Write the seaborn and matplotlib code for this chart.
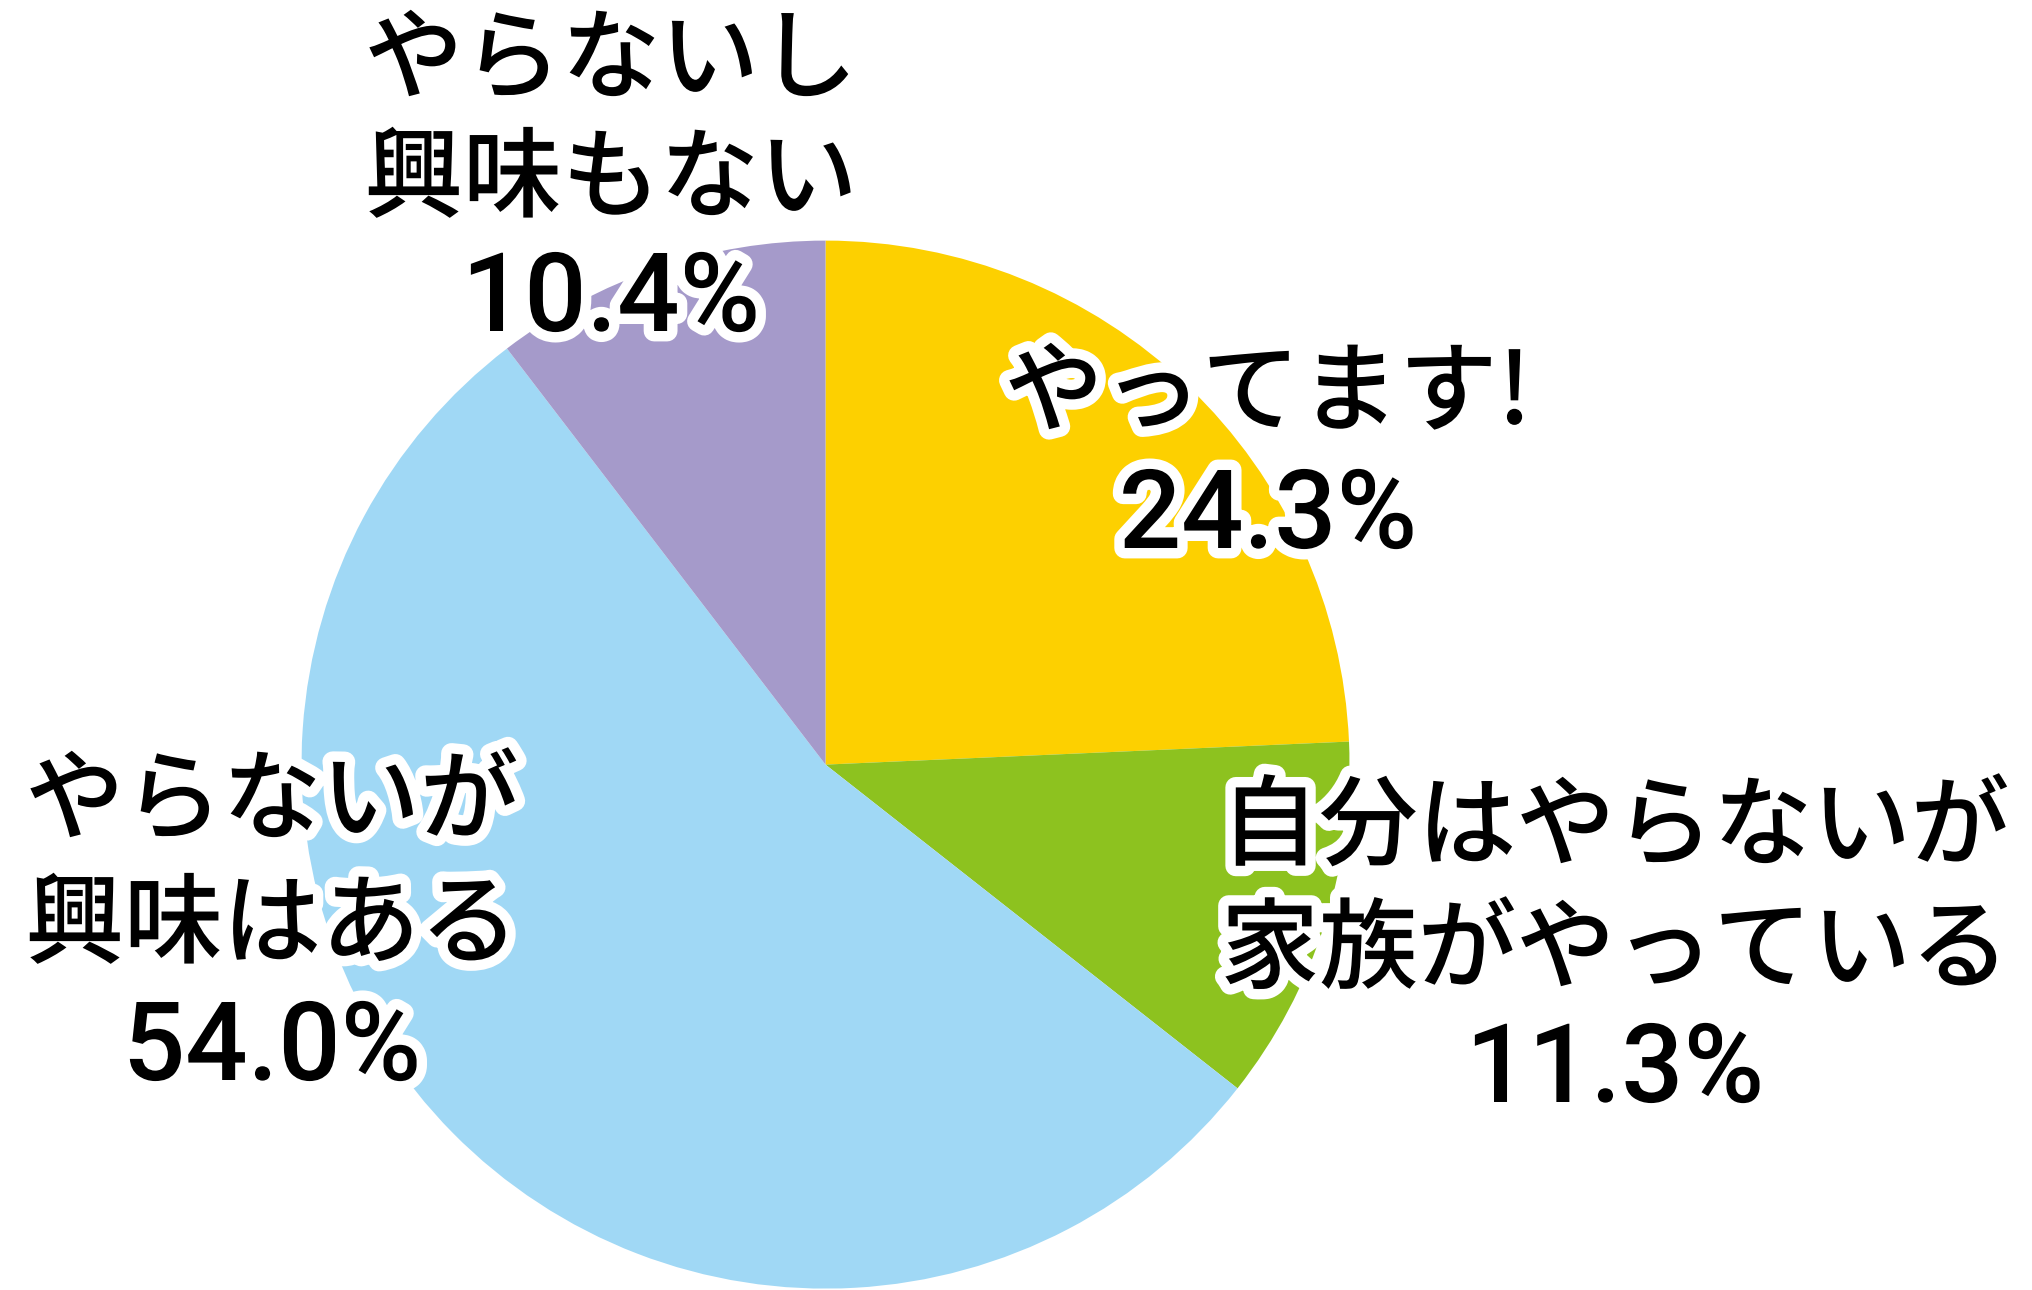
import matplotlib
matplotlib.use("Agg")
import matplotlib.pyplot as plt
import matplotlib.patheffects as pe
import seaborn as sns

# ---- data ----
categories = ["やってます!", "自分はやらないが\n家族がやっている", "やらないが\n興味はある", "やらないし\n興味もない"]
values = [24.3, 11.3, 54.0, 10.4]
pct_labels = ["24.3%", "11.3%", "54.0%", "10.4%"]
colors = ["#FDD000", "#8DC21F", "#A0D8F5", "#A59ACA"]

sns.set_theme(style="white")
plt.rcParams["font.family"] = ["Noto Sans CJK JP", "DejaVu Sans"]

W, H = 2032, 1290
fig = plt.figure(figsize=(W / 100, H / 100), dpi=100)
ax = fig.add_axes([0, 0, 1, 1])

cx, cy, r = 825.5, H - 764.6, 524
ax.pie(values, colors=sns.color_palette(colors), startangle=90, counterclock=False,
       center=(cx, cy), radius=r, wedgeprops=dict(linewidth=0))
ax.set_xlim(0, W)
ax.set_ylim(0, H)
ax.set_aspect("equal")
ax.axis("off")

stroke = [pe.withStroke(linewidth=15, foreground="white")]

# label placements in pixel coords (x center, y of each name line, y of pct)
placements = [
    (1268, [395], 518),
    (1615, [829, 952], 1072),
    (272, [803, 927], 1050),
    (611, [62, 181], 301),
]

for cat, pct, (x, ys, yp) in zip(categories, pct_labels, placements):
    for line, y in zip(cat.split("\n"), ys):
        fig.text(x / W, 1 - y / H, line, ha="center", va="center", fontsize=71,
                 fontweight="medium", color="black", path_effects=stroke)
    fig.text(x / W, 1 - yp / H, pct, ha="center", va="center", fontsize=79,
             family=["Roboto", "DejaVu Sans"], fontweight="medium",
             color="black", path_effects=stroke)

fig.savefig("out.png", dpi=100, facecolor="white")
